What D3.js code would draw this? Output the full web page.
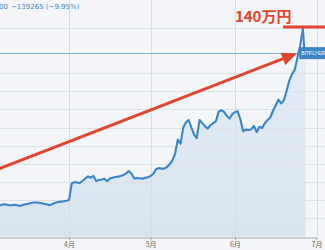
<!DOCTYPE html>
<html><head><meta charset="utf-8">
<script src="https://cdn.jsdelivr.net/npm/d3@7/dist/d3.min.js"></script>
<style>html,body{margin:0;padding:0;background:#f3f5f8;overflow:hidden}svg{display:block}</style>
</head><body><svg id="c" width="325" height="250"></svg>
<script>
// BTC/JPY price (万円), bitFlyer, 2019
const dates = [
"2019-03-06","2019-03-07","2019-03-08","2019-03-09","2019-03-10","2019-03-11","2019-03-12","2019-03-13","2019-03-14","2019-03-15",
"2019-03-16","2019-03-17","2019-03-18","2019-03-19","2019-03-20","2019-03-21","2019-03-22","2019-03-23","2019-03-24","2019-03-25",
"2019-03-26","2019-03-27","2019-03-28","2019-03-29","2019-03-30","2019-03-31",
"2019-04-01","2019-04-02","2019-04-03","2019-04-04","2019-04-05","2019-04-06","2019-04-07","2019-04-08","2019-04-09","2019-04-10",
"2019-04-11","2019-04-12","2019-04-13","2019-04-14","2019-04-15","2019-04-16","2019-04-17","2019-04-18","2019-04-19","2019-04-20",
"2019-04-21","2019-04-22","2019-04-23","2019-04-24","2019-04-25","2019-04-26","2019-04-27","2019-04-28","2019-04-29","2019-04-30",
"2019-05-01","2019-05-02","2019-05-03","2019-05-04","2019-05-05","2019-05-06","2019-05-07","2019-05-08","2019-05-09","2019-05-10",
"2019-05-11","2019-05-12","2019-05-13","2019-05-14","2019-05-15","2019-05-16","2019-05-17","2019-05-18","2019-05-19","2019-05-20",
"2019-05-21","2019-05-22","2019-05-23","2019-05-24","2019-05-25","2019-05-26","2019-05-27","2019-05-28","2019-05-29","2019-05-30","2019-05-31",
"2019-06-01","2019-06-02","2019-06-03","2019-06-04","2019-06-05","2019-06-06","2019-06-07","2019-06-08","2019-06-09","2019-06-10",
"2019-06-11","2019-06-12","2019-06-13","2019-06-14","2019-06-15","2019-06-16","2019-06-17","2019-06-18","2019-06-19","2019-06-20",
"2019-06-21","2019-06-22","2019-06-23","2019-06-24","2019-06-25","2019-06-26","2019-06-26 12","2019-06-27"
];
const prices = [
42.3,42.3,42.7,42.6,42.2,42.3,42.5,42.2,41.8,42.3,
42.8,43.1,43.5,43.7,43.7,43.6,43.3,42.9,42.6,42.3,
43.0,43.6,44.0,44.2,44.4,44.7,
45.1,54.2,55.0,54.7,54.5,55.7,57.0,58.1,57.4,58.4,
55.6,56.1,56.4,56.8,55.4,56.9,57.4,57.8,58.0,58.3,
58.9,59.8,61.1,59.6,57.0,57.2,57.1,56.9,57.3,57.7,
58.3,59.6,62.1,62.7,62.4,62.4,63.3,64.8,66.9,70.6,
78.4,76.2,85.0,88.0,89.2,85.0,81.1,79.3,89.2,87.5,
85.8,84.4,86.3,87.5,88.5,93.7,94.7,93.7,91.5,90.0,92.3,
93.6,94.0,89.6,83.0,83.9,83.7,84.0,85.9,82.5,85.5,
84.8,87.4,89.2,90.5,94.3,97.2,100.5,98.3,100.0,105.2,
110.9,114.5,116.8,123.7,130.3,139.6,128.1,126.0
];
const monthTicks = ["2019-04-01","2019-05-01","2019-06-01","2019-07-01"];
const monthLabels = ["4月","5月","6月","7月"];
const gridValues = [35,45,55,65,75,85,95,105,115,140];
const lastPrice = 126.0;
const peakValue = 140.5;
const peakLabel = "140万円";
const headerTexts = ["00","−139265 (−9.95%)"];
const priceTag = "BITFLYER";
const arrowFrom = {date:"2019-03-01", v:59.3};
const arrowTo = {date:"2019-06-23 19", v:125.9};
const peakLineFrom = "2019-06-18 17", peakLineTo = "2019-07-06";

const pD = d3.timeParse("%Y-%m-%d"), pH = d3.timeParse("%Y-%m-%d %H");
const parse = s => s.length > 10 ? pH(s) : pD(s);
const data = dates.map((d,i)=>({date:parse(d), v:prices[i]}));

const svg = d3.select("#c");
const x = d3.scaleTime().domain([new Date(2019,2,1), new Date(2019,6,1)]).range([-15.3,316.5]);
const y = d3.scaleLinear().domain([25,155]).range([236.5,0.6]);
const y0 = y(25);

const defs = svg.append("defs");
const g = defs.append("linearGradient").attr("id","ag").attr("x1",0).attr("x2",0).attr("y1",0).attr("y2",1);
g.append("stop").attr("offset","0%").attr("stop-color","#e5edf6");
g.append("stop").attr("offset","100%").attr("stop-color","#d7e4ef");

// area
svg.append("path").datum(data)
  .attr("d", d3.area().x(d=>x(d.date)).y0(y0).y1(d=>y(d.v)))
  .attr("fill","url(#ag)");

// horizontal grid
svg.append("g").selectAll("line").data(gridValues).join("line")
  .attr("x1",0).attr("x2",325).attr("y1",d=>Math.round(y(d))+0.5).attr("y2",d=>Math.round(y(d))+0.5)
  .attr("stroke","#dde2e8").attr("stroke-width",1);
// vertical grid
svg.append("g").selectAll("line").data(monthTicks).join("line")
  .attr("x1",d=>Math.round(x(pD(d)))+0.5).attr("x2",d=>Math.round(x(pD(d)))+0.5)
  .attr("y1",0).attr("y2",y0)
  .attr("stroke","#d8dde3").attr("stroke-width",1);

// last price line
svg.append("line").attr("x1",0).attr("x2",325)
  .attr("y1",Math.round(y(lastPrice))+0.5).attr("y2",Math.round(y(lastPrice))+0.5)
  .attr("stroke","#80b3e2").attr("stroke-width",1);

// price line
svg.append("path").datum(data)
  .attr("d", d3.line().x(d=>x(d.date)).y(d=>y(d.v)))
  .attr("fill","none").attr("stroke","#3a85c7").attr("stroke-width",2.1).attr("stroke-linejoin","round");

// price tag
const ty = y(lastPrice);
const tagX = x(parse("2019-06-24 12"))+1;
svg.append("rect").attr("x",tagX).attr("y",ty-5.5).attr("width",40).attr("height",11)
  .attr("fill","#3c87c9").attr("stroke","#2f74b3").attr("stroke-width",0.8);
svg.append("text").attr("x",tagX+1.5).attr("y",ty+2)
  .attr("font-family","Liberation Sans, Arial, sans-serif").attr("font-size",5).attr("fill","#fff").text(priceTag);

// axis
const ax = svg.append("g").attr("transform",`translate(0,${Math.round(y0)+0.5})`)
  .call(d3.axisBottom(x).tickValues(monthTicks.map(pD)).tickFormat((d,i)=>monthLabels[i]).tickSize(3).tickSizeOuter(0));
ax.select(".domain").attr("stroke","#9ea6af");
ax.selectAll(".tick line").attr("stroke","#9ea6af");
ax.selectAll(".tick text").attr("font-family","Noto Sans CJK JP, sans-serif").attr("font-size",7).attr("fill","#666").attr("dy","0.55em");

// header
svg.append("text").attr("x",-1).attr("y",9).attr("font-family","DejaVu Sans, sans-serif").attr("font-size",7).attr("fill","#3d86c6").text(headerTexts[0]);
svg.append("text").attr("x",11).attr("y",9).attr("font-family","DejaVu Sans, sans-serif").attr("font-size",7).attr("fill","#3d86c6").text(headerTexts[1]);

// red arrow
const ax1 = x(parse(arrowFrom.date)), ay1 = y(arrowFrom.v), ax2 = x(parse(arrowTo.date)), ay2 = y(arrowTo.v);
const ang = Math.atan2(ay2-ay1, ax2-ax1), L = 15, Wd = 6.5;
const bx = ax2 - L*Math.cos(ang), by = ay2 - L*Math.sin(ang);
svg.append("line").attr("x1",ax1).attr("y1",ay1).attr("x2",bx+1*Math.cos(ang)).attr("y2",by+1*Math.sin(ang))
  .attr("stroke","#e2452f").attr("stroke-width",3);
svg.append("path").attr("d",`M${ax2},${ay2}L${bx - Wd*Math.sin(ang)},${by + Wd*Math.cos(ang)}L${bx + Wd*Math.sin(ang)},${by - Wd*Math.cos(ang)}Z`)
  .attr("fill","#e2452f");

// peak line + label
svg.append("line").attr("x1",x(parse(peakLineFrom))).attr("x2",x(pD(peakLineTo)))
  .attr("y1",y(peakValue)).attr("y2",y(peakValue)).attr("stroke","#e2452f").attr("stroke-width",3);
svg.append("text").attr("x",x(pD("2019-06-01"))).attr("y",y(peakValue)-4.5)
  .attr("font-family","Noto Sans CJK JP, sans-serif").attr("font-weight","bold").attr("font-size",15)
  .attr("fill","#e2452f").text(peakLabel);
</script></body></html>
